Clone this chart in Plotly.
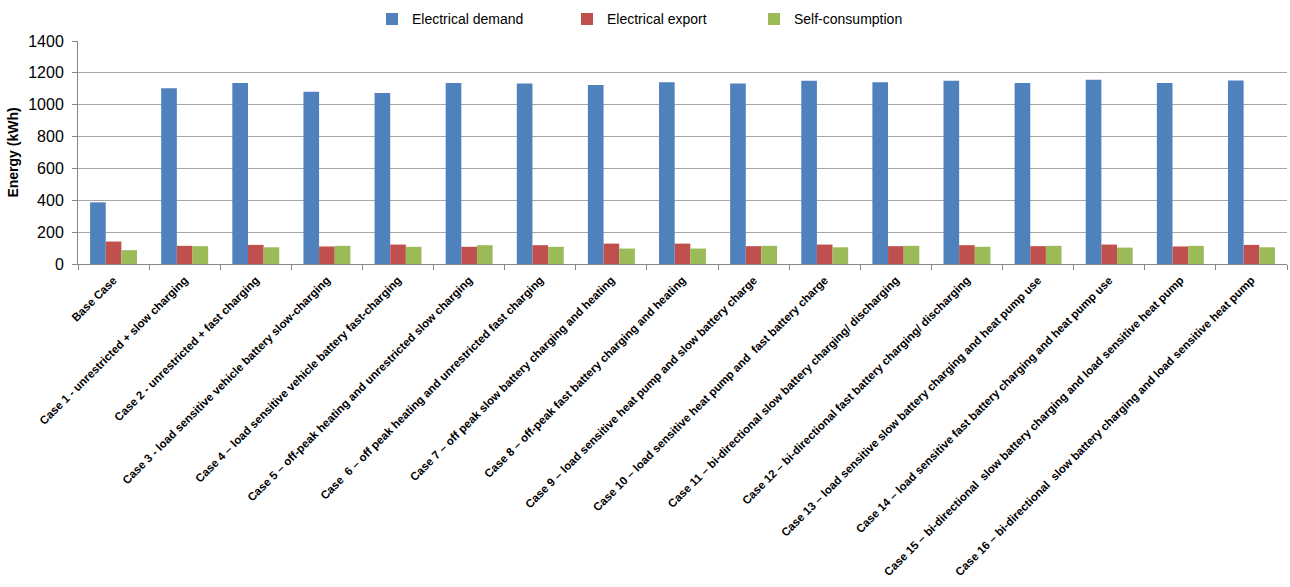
import plotly.graph_objects as go

categories = [
    "Base Case",
    "Case 1 - unrestricted + slow charging",
    "Case 2 - unrestricted + fast charging",
    "Case 3 - load sensitive vehicle battery slow-charging",
    "Case 4 \u2013 load sensitive vehicle battery fast-charging",
    "Case 5 \u2013 off-peak heating and unrestricted slow charging",
    "Case  6 \u2013 off peak heating and unrestricted fast charging",
    "Case 7 \u2013 off peak slow battery charging and heating",
    "Case 8 \u2013 off-peak fast battery charging and heating",
    "Case 9 \u2013 load sensitive heat pump and slow battery charge",
    "Case 10 \u2013 load sensitive heat pump and  fast battery charge",
    "Case 11 \u2013 bi-directional slow battery charging/ discharging",
    "Case 12 \u2013 bi-directional fast battery charging/ discharging",
    "Case 13 \u2013 load sensitive slow battery charging and heat pump use",
    "Case 14 \u2013 load sensitive fast battery charging and heat pump use",
    "Case 15 \u2013 bi-directional  slow battery charging and load sensitive heat pump",
    "Case 16 \u2013 bi-directional  slow battery charging and load sensitive heat pump",
]

electrical_demand = [387, 1104, 1137, 1081, 1073, 1137, 1133, 1123, 1141,
                     1133, 1150, 1141, 1150, 1137, 1156, 1137, 1152]
electrical_export = [141, 114, 120, 110, 122, 108, 118, 128, 128,
                     112, 122, 112, 118, 112, 122, 110, 120]
self_consumption = [87, 112, 105, 114, 108, 118, 108, 97, 97,
                    114, 105, 114, 108, 114, 103, 114, 105]

series_names = ["Electrical demand", "Electrical export", "Self-consumption"]
colors = ["#4F81BD", "#C0504D", "#9BBB59"]
y_ticks = [0, 200, 400, 600, 800, 1000, 1200, 1400]

NARROW = "Liberation Sans Narrow, Liberation Sans, Arial, sans-serif"
REG = "Liberation Sans, Arial, sans-serif"

fig = go.Figure()
for i, (name, vals, col) in enumerate(zip(series_names,
                                          [electrical_demand, electrical_export, self_consumption],
                                          colors)):
    fig.add_trace(go.Bar(
        x=categories, y=vals, name=name, showlegend=True,
        marker=dict(color=col, line=dict(width=0)),
        legend="legend" if i == 0 else f"legend{i+1}",
    ))

leg_common = dict(orientation="h", yanchor="middle", y=1.097, xanchor="left",
                  bgcolor="rgba(0,0,0,0)", borderwidth=0, itemwidth=30,
                  font=dict(family=REG, size=14, color="#000000"))

fig.update_layout(
    width=1290, height=587,
    margin=dict(l=78, r=3, t=38, b=323),
    paper_bgcolor="white", plot_bgcolor="white",
    barmode="group", bargap=0.34, bargroupgap=0,
    showlegend=True,
    font=dict(family=REG, color="#000000"),
    legend=dict(x=(372 - 78) / 1209, **leg_common),
    legend2=dict(x=(567 - 78) / 1209, **leg_common),
    legend3=dict(x=(754 - 78) / 1209, **leg_common),
    xaxis=dict(
        tickangle=-45, tickson="boundaries", ticks="outside", ticklen=5,
        tickcolor="#868686", showline=True, linecolor="#868686", linewidth=1,
        tickfont=dict(family=NARROW, size=11.5, color="#000000", weight="bold"),
        ticklabelstandoff=4,
        automargin=False, showgrid=False,
    ),
    yaxis=dict(
        range=[0, 1400], tickvals=y_ticks, ticks="outside", ticklen=5,
        tickcolor="#868686", showline=True, linecolor="#868686", linewidth=1,
        showgrid=True, gridcolor="#A6A6A6", gridwidth=1, zeroline=False,
        tickfont=dict(family=REG, size=16, color="#000000"),
        ticklabelstandoff=5,
        title=dict(text="Energy (kWh)", standoff=6,
                   font=dict(family=REG, size=14, color="#000000", weight="bold")),
        automargin=False,
    ),
)

fig.write_html("out.html")
